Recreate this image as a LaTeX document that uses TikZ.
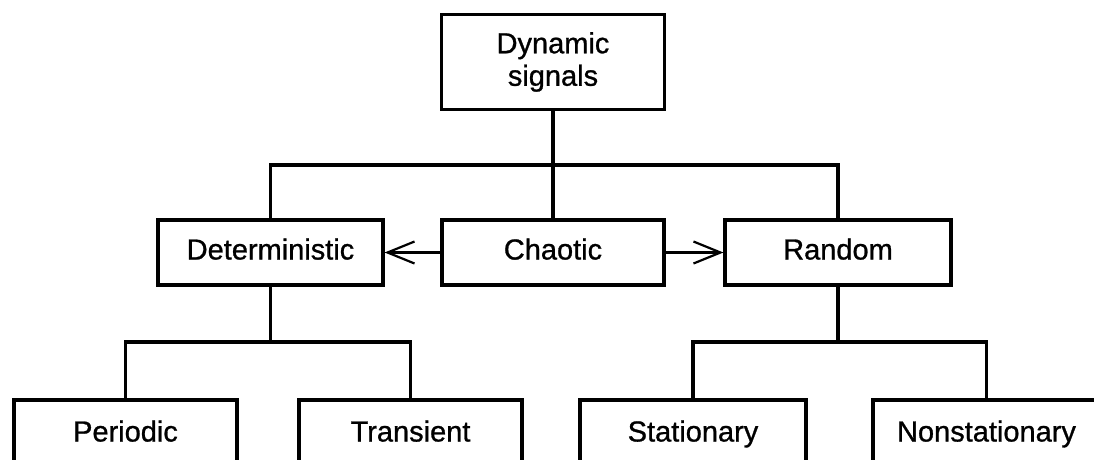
\documentclass[tikz,border=0pt]{standalone}
\usepackage{fontspec}
\setmainfont{Liberation Sans}
\newfontfamily\labelfont[FakeBold=0.9]{Liberation Sans}
\usetikzlibrary{arrows.meta}

\tikzset{
  box/.style={draw, line width=3.2pt, rectangle, inner sep=0pt, align=center,
              minimum height=65pt,
              font=\labelfont\fontsize{29}{32.5}\selectfont},
  oneline/.style={box, text height=21pt, text depth=7pt},
  link/.style={line width=3.2pt},
  ptr/.style={line width=3.2pt,
              -{Straight Barb[length=27pt, width=22pt, line width=2.2pt]}}
}

\begin{document}
\begin{tikzpicture}[x=1pt, y=-1pt]
  \useasboundingbox (0,0) rectangle (1094,459);
  \clip (0,0) rectangle (1094,459);

  % top of the tree
  \node[box, minimum width=223pt, minimum height=95pt] (dyn) at (553,62)
       {Dynamic\\signals};

  % middle row
  \node[oneline, minimum width=225pt] (det) at (270.5,252.5) {Deterministic};
  \node[oneline, minimum width=222pt] (cha) at (553,252.5)   {Chaotic};
  \node[oneline, minimum width=226pt] (ran) at (838,252.5)   {Random};

  % bottom row (runs past the lower edge)
  \node[oneline, minimum width=223pt, minimum height=69pt] (per) at (125.5,434.5) {Periodic};
  \node[oneline, minimum width=223pt, minimum height=69pt] (tra) at (410.5,434.5) {Transient};
  \node[oneline, minimum width=226pt, minimum height=69pt] (sta) at (693,434.5)   {Stationary};
  \node[oneline, minimum width=227pt, minimum height=69pt] (non) at (986.5,434.5) {Nonstationary};

  % branch points
  \coordinate (hub)  at (553,165);
  \coordinate (dbus) at (270.5,342);
  \coordinate (rbus) at (838,342);

  % connectors
  \draw[link] (dyn.south) -- (cha.north);
  \draw[link] (det.north) |- (hub) -| (ran.north);
  \draw[link] (det.south) -- (dbus);
  \draw[link] (per.north) |- (dbus) -| (tra.north);
  \draw[link] (ran.south) -- (rbus);
  \draw[link] (sta.north) |- (rbus) -| (non.north);

  \draw[ptr] (cha.west) -- (det.east);
  \draw[ptr] (cha.east) -- (ran.west);
\end{tikzpicture}
\end{document}
